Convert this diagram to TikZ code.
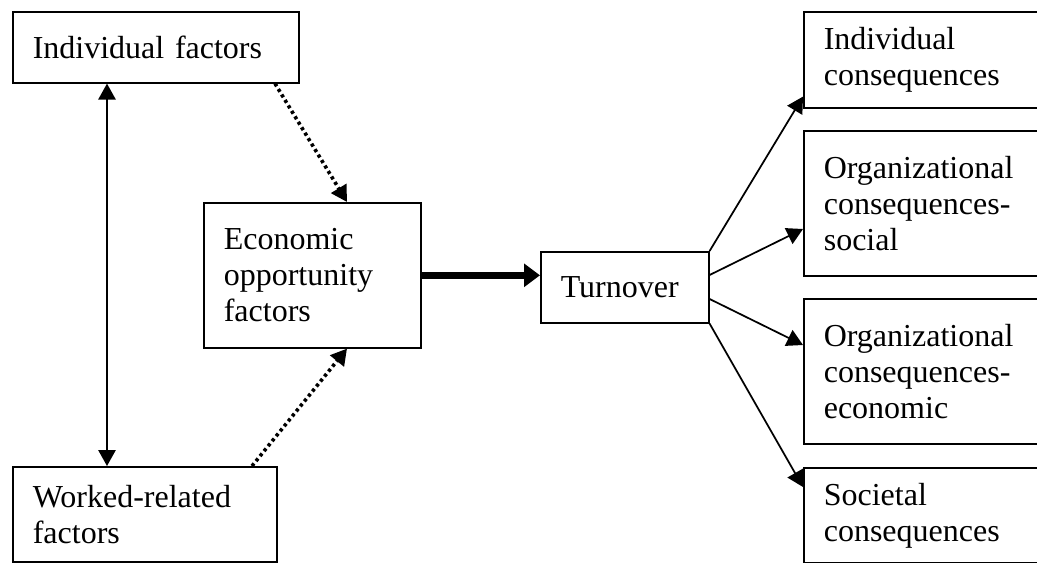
\documentclass[tikz,border=0pt]{standalone}
\usepackage{fontspec}
\setmainfont{Liberation Serif}
\usetikzlibrary{arrows.meta,calc}
\tikzset{
  box/.style={draw, line width=1.2pt, anchor=north west, align=left,
    inner xsep=15pt, inner ysep=0pt, font=\fontsize{24pt}{27pt}\selectfont},
  link/.style={line width=1.3pt, -{Triangle[length=12pt,width=13pt]}},
  dots/.style={line width=2.7pt, dash pattern=on 2.4pt off 2.4pt,
    -{Triangle[length=12pt,width=13pt]}},
}
\begin{document}
\begin{tikzpicture}[x=0.75pt,y=-0.75pt]
\clip (0,0) rectangle (1037,563);
% left column
\node[box, text width=184.5pt, minimum height=53.25pt] (indiv) at (12,11) {Individual factors};
\node[box, text width=168pt, minimum height=71.25pt] (work) at (12,466) {Worked-related\\factors};
% middle
\node[box, text width=132.75pt, minimum height=108.75pt] (econ) at (203,202) {Economic\\opportunity\\factors};
\node[box, text width=96pt, minimum height=53.25pt] (turn) at (540,251) {Turnover};
% consequences
\node[box, text width=150pt, minimum height=72pt] (indcons) at (803,11) {Individual\\consequences};
\node[box, text width=150pt, minimum height=108.75pt] (orgsoc) at (803,130) {Organizational\\consequences-\\social};
\node[box, text width=150pt, minimum height=108.75pt] (orgeco) at (803,298) {Organizational\\consequences-\\economic};
\node[box, text width=150pt, minimum height=71.25pt] (soccons) at (803,467) {Societal\\consequences};

\draw[link, {Triangle[length=12pt,width=13pt]}-{Triangle[length=12pt,width=13pt]}]
  ($(indiv.south west)+(95,0)$) -- ($(work.north west)+(95,0)$);
\draw[dots] ($(indiv.south west)+(263,0)$) -- ($(econ.north west)+(144,0)$);
\draw[dots] ($(work.north west)+(240,0)$) -- ($(econ.south west)+(144,0)$);
\draw[line width=5pt, -{Triangle[length=12pt,width=17pt]}] (econ.east) -- (econ.east -| turn.west);

\draw[link] (turn.north east) -- ($(indcons.south west)+(0,-12)$);
\draw[link] ($(turn.north east)+(0,24)$) -- ($(orgsoc.north west)+(0,99)$);
\draw[link] ($(turn.north east)+(0,48)$) -- ($(orgeco.north west)+(0,47)$);
\draw[link] (turn.south east) -- ($(soccons.north west)+(0,20)$);
\end{tikzpicture}
\end{document}
